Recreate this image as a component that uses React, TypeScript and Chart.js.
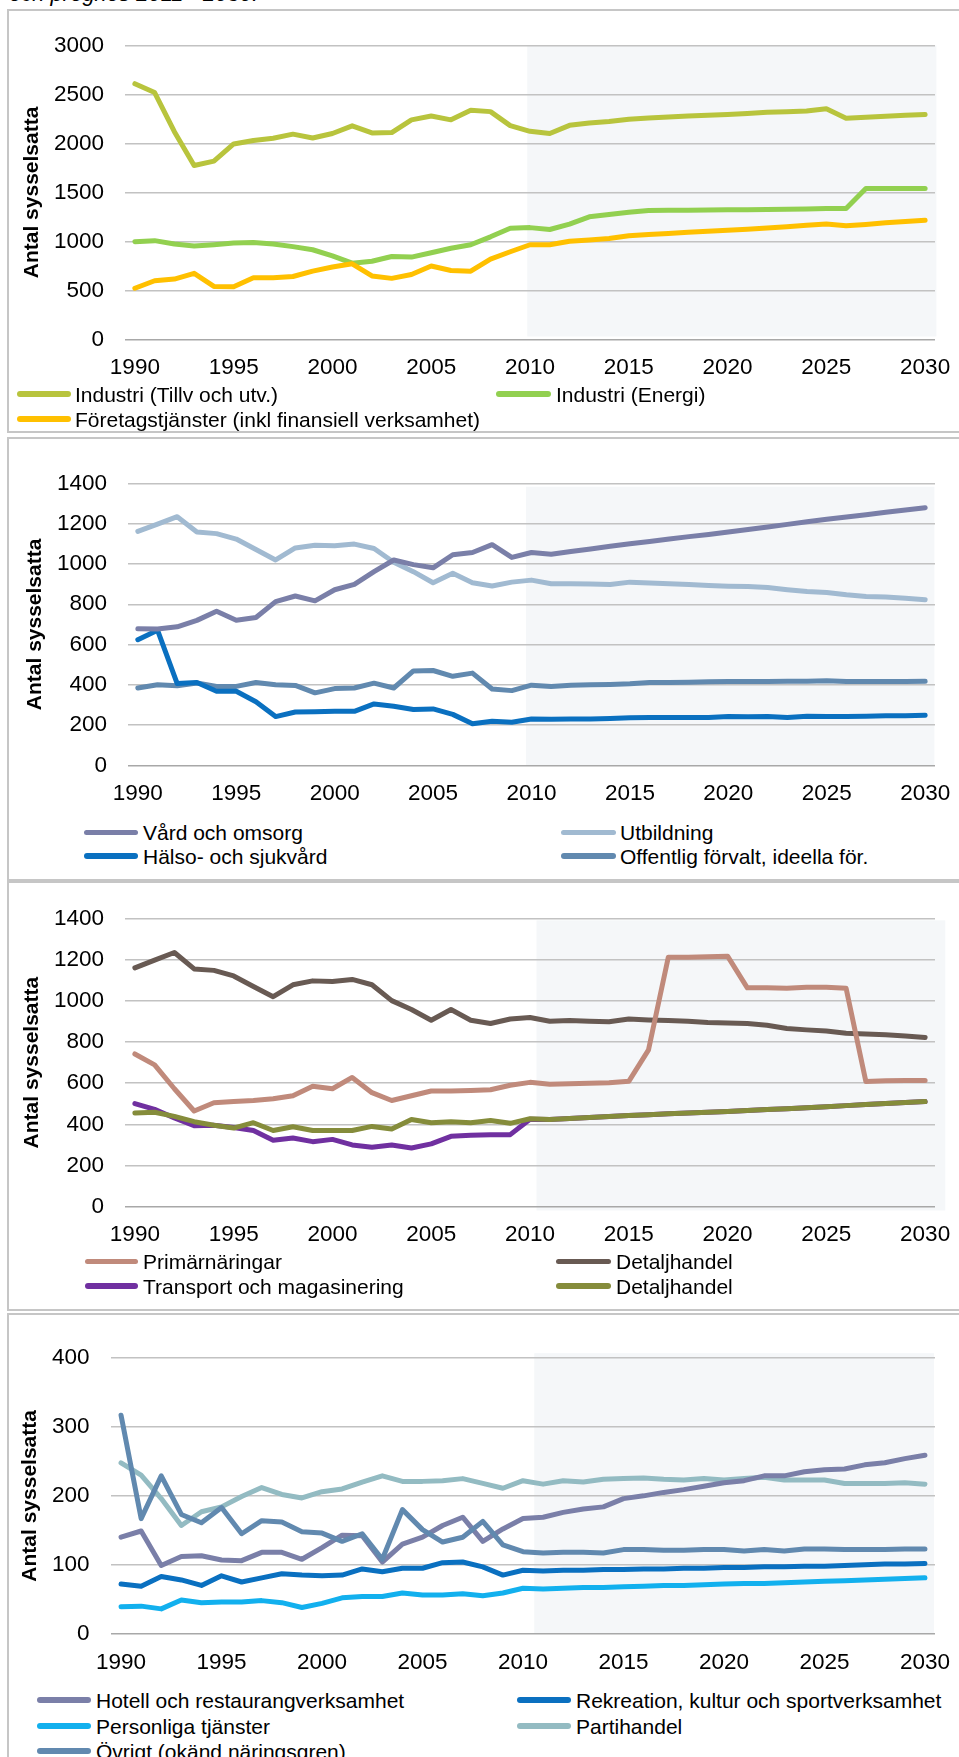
import React, { useEffect, useRef } from 'react';
import { Chart, registerables } from 'chart.js';
Chart.register(...registerables);

const FONT = "'Liberation Sans', Arial, Helvetica, sans-serif";
Chart.defaults.font.family = FONT;

// ---------- categories ----------
const years = [
  '1990','1991','1992','1993','1994','1995','1996','1997','1998','1999',
  '2000','2001','2002','2003','2004','2005','2006','2007','2008','2009',
  '2010','2011','2012','2013','2014','2015','2016','2017','2018','2019',
  '2020','2021','2022','2023','2024','2025','2026','2027','2028','2029','2030',
];

// ---------- panel 1 ----------
const industriTillv = [
  2610, 2520, 2120, 1775, 1820, 1995, 2030, 2053, 2095, 2056,
  2102, 2180, 2108, 2111, 2241, 2280, 2241, 2338, 2325, 2182,
  2124, 2102, 2185, 2209, 2225, 2248, 2260, 2270, 2280, 2287,
  2296, 2306, 2319, 2325, 2332, 2355, 2257, 2267, 2277, 2287, 2296,
];
const industriEnergi = [
  998, 1008, 973, 953, 966, 983, 989, 973, 947, 915,
  852, 778, 798, 846, 840, 885, 930, 966, 1047, 1135,
  1141, 1122, 1177, 1251, 1274, 1297, 1316, 1318, 1319, 1321,
  1323, 1324, 1326, 1328, 1330, 1336, 1336, 1540, 1540, 1540, 1540,
];
const foretagstjanster = [
  522, 599, 616, 674, 541, 538, 629, 629, 642, 697,
  739, 772, 648, 623, 662, 749, 703, 696, 820, 895,
  966, 966, 1002, 1015, 1031, 1057, 1070, 1080, 1093, 1105,
  1115, 1125, 1138, 1151, 1164, 1177, 1161, 1174, 1190, 1203, 1216,
];

// ---------- panel 2 ----------
const vardOmsorg = [
  678, 677, 688, 720, 765, 721, 734, 813, 841, 817,
  872, 899, 962, 1020, 997, 981, 1046, 1057, 1096, 1033,
  1057, 1049, 1062, 1075, 1088, 1101, 1112, 1124, 1136, 1147,
  1159, 1171, 1184, 1197, 1210, 1222, 1234, 1245, 1257, 1268, 1280,
];
const utbildning = [
  1162, 1198, 1235, 1159, 1151, 1124, 1072, 1020, 1080, 1093,
  1091, 1099, 1077, 1009, 962, 907, 954, 907, 891, 910,
  920, 902, 902, 901, 898, 910, 906, 902, 898, 893,
  890, 888, 883, 872, 863, 858, 847, 839, 836, 830, 822,
];
const halsoSjukvard = [
  624, 671, 406, 411, 368, 368, 316, 242, 265, 266,
  269, 268, 305, 293, 277, 280, 253, 206, 219, 214,
  230, 229, 230, 230, 232, 236, 238, 238, 238, 238,
  242, 241, 242, 238, 244, 242, 242, 244, 246, 246, 249,
];
const offentligForvalt = [
  384, 400, 395, 409, 392, 392, 411, 400, 397, 360,
  381, 384, 408, 384, 469, 471, 442, 458, 379, 371,
  398, 392, 398, 400, 402, 405, 411, 411, 412, 415,
  416, 416, 416, 417, 417, 420, 416, 416, 416, 416, 417,
];

// ---------- panel 3 ----------
const primarnaringar = [
  742, 689, 573, 465, 505, 511, 516, 524, 539, 585,
  573, 628, 554, 516, 539, 562, 562, 565, 568, 590,
  604, 595, 597, 600, 602, 609, 762, 1212, 1212, 1214,
  1217, 1063, 1063, 1061, 1066, 1066, 1061, 608, 612, 613, 613,
];
const detaljhandelA = [
  1160, 1198, 1235, 1155, 1148, 1121, 1070, 1020, 1078, 1097,
  1094, 1104, 1078, 1001, 958, 906, 958, 906, 890, 912,
  919, 901, 904, 901, 898, 912, 907, 904, 901, 895,
  892, 890, 881, 866, 859, 853, 843, 839, 835, 829, 822,
];
const transportMagasinering = [
  501, 473, 431, 393, 396, 385, 370, 323, 334, 316,
  327, 300, 289, 300, 285, 305, 342, 347, 350, 350,
  425, 424, 428, 433, 438, 443, 447, 451, 455, 459,
  463, 467, 472, 476, 481, 486, 491, 496, 501, 506, 511,
];
const detaljhandelB = [
  455, 459, 439, 413, 396, 382, 408, 370, 388, 370,
  370, 370, 390, 377, 424, 408, 413, 408, 419, 405,
  427, 424, 428, 433, 438, 443, 447, 451, 455, 459,
  463, 467, 472, 476, 481, 486, 491, 496, 501, 506, 511,
];

// ---------- panel 4 ----------
const hotellRestaurang = [
  140, 149, 99, 112, 113, 107, 106, 118, 118, 108,
  125, 143, 142, 104, 130, 140, 157, 169, 134, 152,
  167, 169, 176, 181, 184, 196, 200, 205, 209, 214,
  219, 222, 229, 229, 235, 238, 239, 245, 248, 254, 259,
];
const rekreationKultur = [
  72, 69, 83, 78, 70, 84, 75, 81, 87, 85,
  84, 85, 94, 90, 95, 95, 103, 104, 97, 85,
  92, 91, 92, 92, 93, 93, 94, 94, 95, 95,
  96, 96, 97, 97, 98, 98, 99, 100, 101, 101, 102,
];
const personligaTjanster = [
  39, 40, 36, 49, 45, 46, 46, 48, 45, 38,
  44, 52, 54, 54, 59, 56, 56, 58, 55, 59,
  66, 65, 66, 67, 67, 68, 69, 70, 70, 71,
  72, 73, 73, 74, 75, 76, 77, 78, 79, 80, 81,
];
const partihandel = [
  248, 230, 196, 157, 177, 184, 199, 212, 202, 197,
  206, 210, 220, 229, 221, 221, 222, 225, 218, 211,
  222, 217, 222, 220, 224, 225, 226, 224, 223, 225,
  223, 225, 227, 223, 223, 223, 218, 218, 218, 219, 217,
];
const ovrigt = [
  317, 167, 229, 173, 161, 183, 145, 164, 162, 148,
  146, 134, 145, 108, 180, 151, 133, 140, 163, 129,
  119, 117, 118, 118, 117, 122, 122, 121, 121, 122,
  122, 120, 122, 120, 123, 123, 122, 122, 122, 123, 123,
];

const yTitle = 'Antal sysselsatta';
const headerText = 'och prognos 2011 - 2030.';

// ---------- layout ----------
type Series = { label: string; data: number[]; color: string; order: number; pos: [number, number] };
type LegendCol = { l0: number; l1: number; t: number };
type PanelCfg = {
  boxTop: number; boxHeight: number;
  canvasTop: number;
  chartTop: number; chartBottom: number; chartLeft: number; chartRight: number;
  yMax: number; yStep: number;
  titlePad: number; xTickPad: number; yTickPad: number;
  shade: [number, number, number, number];
  series: Series[];
  legendRows: number[];
  legendCols: LegendCol[];
};

const CANVAS_W = 1000;
const X_AXIS_H = 50;
const SHADE = '#F5F7F9';
const TICK_SIZE = 22.5;
const LEGEND_SIZE = 21;
const TITLE_SIZE = 21;

const panels: PanelCfg[] = [
  {
    boxTop: 9, boxHeight: 424, canvasTop: 11,
    chartTop: 31, chartBottom: 339.4, chartLeft: 125, chartRight: 935,
    yMax: 3000, yStep: 500, titlePad: 19.4, xTickPad: 15.1, yTickPad: 21,
    shade: [19.86, 40.57, 3000, 30],
    series: [
      { label: 'Industri (Tillv och utv.)', data: industriTillv, color: '#B8C43D', order: 2, pos: [0, 0] },
      { label: 'Industri (Energi)', data: industriEnergi, color: '#92D050', order: 1, pos: [0, 1] },
      { label: 'Företagstjänster (inkl finansiell verksamhet)', data: foretagstjanster, color: '#FFC000', order: 0, pos: [1, 0] },
    ],
    legendRows: [394, 419],
    legendCols: [{ l0: 17, l1: 71, t: 75 }, { l0: 496, l1: 551, t: 556 }],
  },
  {
    boxTop: 437, boxHeight: 444, canvasTop: 449,
    chartTop: 469, chartBottom: 765.3, chartLeft: 128, chartRight: 935,
    yMax: 1400, yStep: 200, titlePad: 22.4, xTickPad: 15.2, yTickPad: 21,
    shade: [19.72, 40.47, 1384, 0],
    series: [
      { label: 'Vård och omsorg', data: vardOmsorg, color: '#7A7FA8', order: 0, pos: [0, 0] },
      { label: 'Utbildning', data: utbildning, color: '#A1BAD1', order: 1, pos: [0, 1] },
      { label: 'Hälso- och sjukvård', data: halsoSjukvard, color: '#0A70C0', order: 2, pos: [1, 0] },
      { label: 'Offentlig förvalt, ideella för.', data: offentligForvalt, color: '#6189AF', order: 3, pos: [1, 1] },
    ],
    legendRows: [832.7, 856],
    legendCols: [{ l0: 84, l1: 138, t: 143 }, { l0: 561, l1: 616, t: 620 }],
  },
  {
    boxTop: 881, boxHeight: 430, canvasTop: 884,
    chartTop: 903.7, chartBottom: 1206.7, chartLeft: 125, chartRight: 935,
    yMax: 1400, yStep: 200, titlePad: 19.4, xTickPad: 14.8, yTickPad: 21,
    shade: [20.33, 41.02, 1391, -18.5],
    series: [
      { label: 'Primärnäringar', data: primarnaringar, color: '#C08A7B', order: 1, pos: [0, 0] },
      { label: 'Detaljhandel', data: detaljhandelA, color: '#685A53', order: 2, pos: [0, 1] },
      { label: 'Transport och magasinering', data: transportMagasinering, color: '#7030A0', order: 3, pos: [1, 0] },
      { label: 'Detaljhandel', data: detaljhandelB, color: '#858C3B', order: 0, pos: [1, 1] },
    ],
    legendRows: [1261.7, 1286],
    legendCols: [{ l0: 85, l1: 138, t: 143 }, { l0: 556, l1: 611, t: 616 }],
  },
  {
    boxTop: 1313, boxHeight: 520, canvasTop: 1323,
    chartTop: 1343.3, chartBottom: 1633.7, chartLeft: 111, chartRight: 935,
    yMax: 400, yStep: 100, titlePad: 18.1, xTickPad: 15.8, yTickPad: 21.5,
    shade: [20.56, 40.45, 407, 0],
    series: [
      { label: 'Hotell och restaurangverksamhet', data: hotellRestaurang, color: '#7A7FA8', order: 1, pos: [0, 0] },
      { label: 'Rekreation, kultur och sportverksamhet', data: rekreationKultur, color: '#0A70C0', order: 3, pos: [0, 1] },
      { label: 'Personliga tjänster', data: personligaTjanster, color: '#12B0EE', order: 4, pos: [1, 0] },
      { label: 'Partihandel', data: partihandel, color: '#93BBC2', order: 2, pos: [1, 1] },
      { label: 'Övrigt (okänd näringsgren)', data: ovrigt, color: '#6189AF', order: 0, pos: [2, 0] },
    ],
    legendRows: [1700, 1726, 1751],
    legendCols: [{ l0: 37, l1: 91, t: 96 }, { l0: 517, l1: 571, t: 576 }],
  },
];

function PanelChart({ cfg }: { cfg: PanelCfg }) {
  const ref = useRef<HTMLCanvasElement>(null);
  const canvasHeight = Math.ceil(cfg.chartBottom + X_AXIS_H - cfg.canvasTop) + 1;
  useEffect(() => {
    const canvas = ref.current;
    if (!canvas) return;
    const shadePlugin = {
      id: 'forecastShade',
      beforeDraw(chart: any) {
        const { ctx, scales } = chart;
        const xs = scales.x;
        const ys = scales.y;
        const x0 = xs.getPixelForValue(cfg.shade[0]);
        const x1 = xs.getPixelForValue(cfg.shade[1]);
        const y0 = ys.getPixelForValue(cfg.shade[2]);
        const y1 = ys.getPixelForValue(cfg.shade[3]);
        ctx.save();
        ctx.fillStyle = SHADE;
        ctx.fillRect(x0, y0, x1 - x0, y1 - y0);
        ctx.restore();
      },
    };
    const chart = new Chart(canvas, {
      type: 'line',
      data: {
        labels: years,
        datasets: cfg.series.map((s) => ({
          label: s.label,
          data: s.data,
          borderColor: s.color,
          backgroundColor: s.color,
          borderWidth: 5,
          pointRadius: 0,
          pointHoverRadius: 0,
          tension: 0,
          fill: false,
          borderCapStyle: 'round',
          borderJoinStyle: 'round',
          order: s.order,
        })) as any,
      },
      options: {
        responsive: false,
        animation: false,
        devicePixelRatio: 1,
        layout: {
          padding: {
            top: cfg.chartTop - cfg.canvasTop,
            left: 0,
            right: CANVAS_W - cfg.chartRight,
            bottom: cfg.canvasTop + canvasHeight - cfg.chartBottom - X_AXIS_H,
          },
        },
        plugins: { legend: { display: false }, tooltip: { enabled: false } },
        scales: {
          x: {
            type: 'category',
            offset: true,
            grid: { display: false, drawTicks: false },
            border: { display: false },
            ticks: {
              autoSkip: false,
              maxRotation: 0,
              minRotation: 0,
              padding: cfg.xTickPad,
              color: '#000',
              font: { family: FONT, size: TICK_SIZE },
              callback: (_v: any, i: number) => (i % 5 === 0 ? years[i] : ''),
            },
            afterFit: (s: any) => { s.height = X_AXIS_H; },
          },
          y: {
            min: 0,
            max: cfg.yMax,
            ticks: {
              stepSize: cfg.yStep,
              padding: cfg.yTickPad,
              color: '#000',
              font: { family: FONT, size: TICK_SIZE },
              callback: (v: any) => String(v),
            },
            grid: {
              drawTicks: false,
              lineWidth: 1.5,
              color: (c: any) => (c.tick && c.tick.value === 0 ? '#A8A8A8' : '#C2C2C2'),
            },
            border: { display: false },
            title: {
              display: true,
              text: yTitle,
              color: '#000',
              font: { family: FONT, size: TITLE_SIZE, weight: 'bold' },
              padding: { top: cfg.titlePad, bottom: 0 },
            },
            afterFit: (s: any) => { s.width = cfg.chartLeft; },
          },
        },
      } as any,
      plugins: [shadePlugin],
    });
    return () => chart.destroy();
  }, []);
  return (
    <canvas
      ref={ref}
      width={CANVAS_W}
      height={canvasHeight}
      style={{ position: 'absolute', left: 0, top: cfg.canvasTop, width: CANVAS_W, height: canvasHeight }}
    />
  );
}

function Legend({ cfg }: { cfg: PanelCfg }) {
  return (
    <>
      {cfg.series.map((s, i) => {
        const y = cfg.legendRows[s.pos[0]];
        const col = cfg.legendCols[s.pos[1]];
        return (
          <React.Fragment key={i}>
            <div
              style={{
                position: 'absolute', left: col.l0, top: y - 2.75, width: col.l1 - col.l0, height: 5.5,
                background: s.color, borderRadius: 3,
              }}
            />
            <div
              style={{
                position: 'absolute', left: col.t, top: y - 12.5, height: 25, lineHeight: '25px',
                fontSize: LEGEND_SIZE, fontFamily: FONT, color: '#000', whiteSpace: 'nowrap',
              }}
            >
              {s.label}
            </div>
          </React.Fragment>
        );
      })}
    </>
  );
}

export default function App() {
  return (
    <div style={{ position: 'absolute', left: 0, top: 0, width: 959, height: 1757, overflow: 'hidden', background: '#fff' }}>
      <div
        style={{
          position: 'absolute', left: 9, top: -17, fontSize: 22, lineHeight: '22px', fontStyle: 'italic',
          fontFamily: FONT, color: '#000', whiteSpace: 'nowrap',
        }}
      >
        {headerText}
      </div>
      {panels.map((p, i) => (
        <div
          key={'box' + i}
          style={{
            position: 'absolute', left: 7, top: p.boxTop, width: 1100, height: p.boxHeight,
            boxSizing: 'border-box', border: '2px solid #C6C6C6',
          }}
        />
      ))}
      {panels.map((p, i) => (
        <PanelChart key={'c' + i} cfg={p} />
      ))}
      {panels.map((p, i) => (
        <Legend key={'l' + i} cfg={p} />
      ))}
    </div>
  );
}
